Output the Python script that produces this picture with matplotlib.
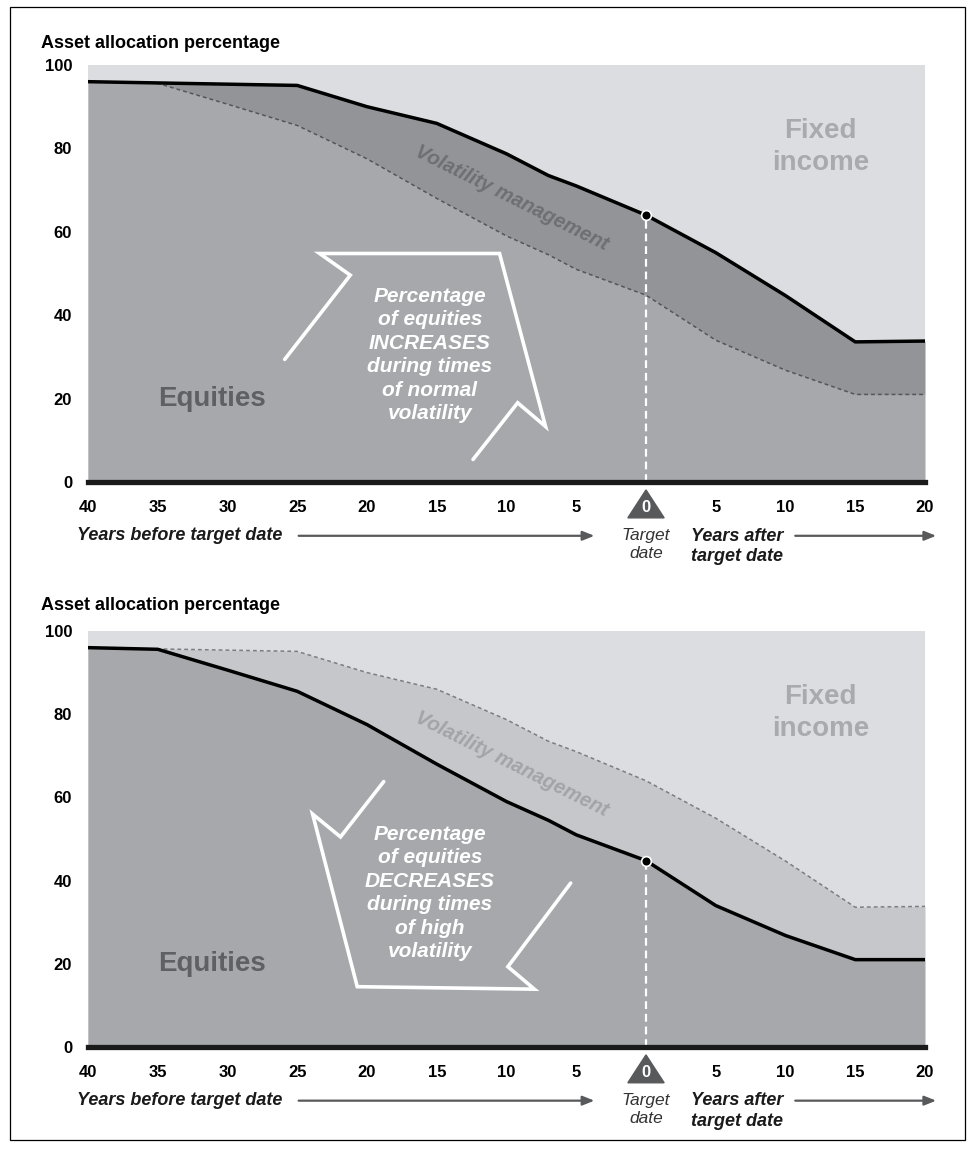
#!/usr/bin/env python
# glide path charts: volatility management up / down
import matplotlib
matplotlib.use('Agg')
import matplotlib.pyplot as plt
import matplotlib.patches as patches
import numpy as np

plt.rcParams['font.family'] = ['Liberation Sans', 'DejaVu Sans']

# years relative to target date (negative = before)
years = [-40, -35, -30, -25, -20, -15, -10, -7, -5, 0, 5, 10, 15, 20]
# equities incl. volatility management band (upper edge)
upper = [96, 95.7, 95.4, 95.1, 90.0, 86.0, 78.7, 73.5, 71.0, 64.0, 55.0, 44.7, 33.6, 33.8]
# equities without the band (lower edge)
lower = [96, 95.6, 90.6, 85.5, 77.5, 68.0, 59.0, 54.5, 51.0, 44.8, 34.0, 26.8, 21.0, 21.0]

xtick_pos = [-40, -35, -30, -25, -20, -15, -10, -5, 0, 5, 10, 15, 20]
xtick_labels = ['40', '35', '30', '25', '20', '15', '10', '5', '0', '5', '10', '15', '20']
ytick_pos = [0, 20, 40, 60, 80, 100]

text_up = 'Percentage\nof equities\nINCREASES\nduring times\nof normal\nvolatility'
text_down = 'Percentage\nof equities\nDECREASES\nduring times\nof high\nvolatility'

# outline of the big white arrows (data units)
arrow_up = [(-25.9, 29.4), (-21.2, 49.6), (-23.4, 54.8), (-10.5, 54.8),
            (-7.2, 13.3), (-9.2, 19.0), (-12.4, 5.4)]
arrow_down = [(-18.8, 63.8), (-21.9, 50.5), (-23.9, 56.0), (-20.7, 14.5),
              (-8.0, 13.9), (-9.9, 19.3), (-5.4, 39.4)]

c_fixed = '#dcdde0'
c_equity = '#a7a8ac'


def panel(ax, band_color, vol_text_color, solid, dashed, dashed_color, arrow, arrow_text, text_y):
    ax.set_facecolor(c_fixed)
    ax.fill_between(years, 0, lower, color=c_equity, lw=0)
    ax.fill_between(years, lower, upper, color=band_color, lw=0)
    ax.plot(years, dashed, color=dashed_color, lw=1.1, ls=(0, (2.5, 2)))
    ax.plot(years, solid, color='black', lw=2.5, solid_joinstyle='round')
    ax.axhline(0, color='#1a1a1a', lw=3.8, clip_on=False, zorder=5)

    y0 = np.interp(0, years, solid)
    ax.plot([0, 0], [0, y0], color='white', lw=1.6, ls=(0, (3.5, 2.2)), zorder=4)
    ax.plot([0], [y0], marker='o', ms=7, mfc='black', mec='white', mew=1.2, zorder=6)

    ax.plot([p[0] for p in arrow], [p[1] for p in arrow], color='white', lw=2.6,
            solid_joinstyle='miter', solid_capstyle='round', zorder=3)
    ax.text(-15.5, text_y, arrow_text, color='white', fontsize=15, fontweight='bold',
            style='italic', ha='center', va='center', linespacing=1.3)

    ax.text(-31.1, 20, 'Equities', color='#5f6063', fontsize=20, fontweight='bold',
            ha='center', va='center')
    ax.text(12.5, 80.3, 'Fixed\nincome', color='#a9aaad', fontsize=20, fontweight='bold',
            ha='center', va='center', linespacing=1.28)
    ax.text(-9.6, 68.0, 'Volatility management', color=vol_text_color, fontsize=14.5,
            fontweight='bold', style='italic', ha='center', va='center', rotation=-26.5)

    ax.set_xlim(-40, 20)
    ax.set_ylim(0, 100)
    for s in ax.spines.values():
        s.set_visible(False)
    ax.set_yticks(ytick_pos)
    ax.set_yticklabels([str(v) for v in ytick_pos], fontsize=12, fontweight='bold')
    ax.set_xticks(xtick_pos)
    ax.set_xticklabels(xtick_labels, fontsize=12, fontweight='bold')
    ax.tick_params(length=0)
    ax.tick_params(axis='y', pad=11.5)
    ax.tick_params(axis='x', pad=13)
    ax.get_xticklabels()[8].set_color('white')

    # triangle behind the "0" label
    ax.add_patch(patches.Polygon([(-1.3, -8.6), (1.3, -8.6), (0, -1.9)], closed=True,
                                 color='#58595b', clip_on=False, zorder=1))

    ax.text(-40.8, -12.9, 'Years before target date', fontsize=13, fontweight='bold',
            style='italic', ha='left', va='center', color='#1a1a1a')
    ax.annotate('', xy=(-3.7, -12.9), xytext=(-24.9, -12.9), annotation_clip=False,
                arrowprops=dict(arrowstyle='-|>,head_length=0.7,head_width=0.28',
                                color='#58595b', lw=1.6, shrinkA=0, shrinkB=0))
    ax.text(0, -15.0, 'Target\ndate', fontsize=12.5, style='italic', ha='center', va='center',
            color='#333333', linespacing=1.25)
    ax.text(3.2, -15.4, 'Years after\ntarget date', fontsize=13, fontweight='bold',
            style='italic', ha='left', va='center', color='#1a1a1a', linespacing=1.25)
    ax.annotate('', xy=(20.8, -12.9), xytext=(10.7, -12.9), annotation_clip=False,
                arrowprops=dict(arrowstyle='-|>,head_length=0.7,head_width=0.28',
                                color='#58595b', lw=1.6, shrinkA=0, shrinkB=0))


fig = plt.figure(figsize=(9.72, 11.52), dpi=100)

ax1 = fig.add_axes([88 / 972, 1 - 482 / 1152, 837 / 972, 417 / 1152])
panel(ax1, '#939498', '#6e6f73', upper, lower, '#555557', arrow_up, text_up, 30.5)

ax2 = fig.add_axes([88 / 972, 1 - 1047 / 1152, 837 / 972, 416 / 1152])
panel(ax2, '#c6c7ca', '#a3a4a7', lower, upper, '#7c7d80', arrow_down, text_down, 37)

fig.text(41 / 972, 1 - 43 / 1152, 'Asset allocation percentage', fontsize=13,
         fontweight='bold', va='center', ha='left')
fig.text(41 / 972, 1 - 605 / 1152, 'Asset allocation percentage', fontsize=13,
         fontweight='bold', va='center', ha='left')

fig.patches.append(patches.Rectangle((10 / 972, 12 / 1152), 955 / 972, 1133 / 1152,
                                     transform=fig.transFigure, fill=False,
                                     edgecolor='black', lw=0.9))

fig.savefig('out.png', dpi=100)
